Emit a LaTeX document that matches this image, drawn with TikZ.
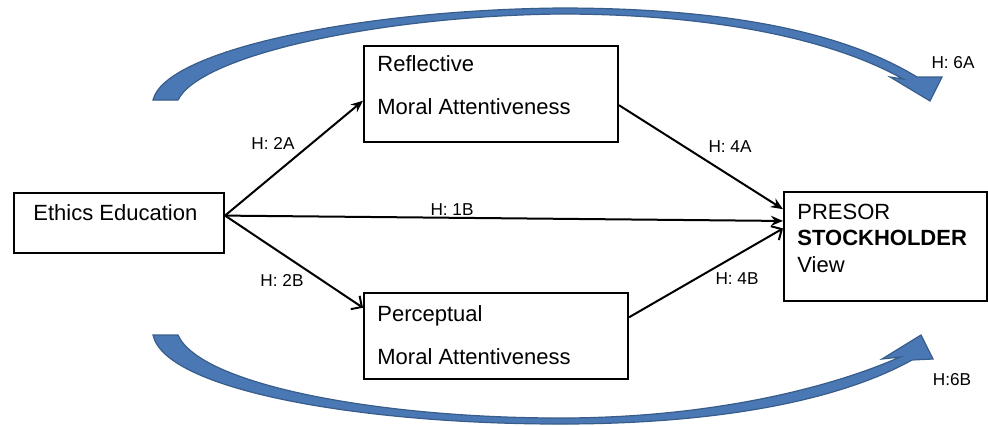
\documentclass[tikz,border=0pt]{standalone}
\usepackage{fontspec}
\setmainfont{Liberation Sans}
\usetikzlibrary{arrows.meta}

\begin{document}
\begin{tikzpicture}[x=0.5pt,y=-0.5pt,
	box/.style={draw=black,line width=1pt,rectangle,inner sep=0pt,anchor=north west},
	txt/.style={inner sep=0pt,anchor=base west,align=left,font=\fontsize{11}{21.5}\selectfont},
	hyp/.style={inner sep=0pt,font=\fontsize{8.6}{10}\selectfont},
	link/.style={line width=1pt,-{Stealth[length=6pt,width=5pt]}},
	openlink/.style={line width=1pt,-{Straight Barb[length=4pt,width=8pt]}},
	bigarrow/.style={fill=color1,draw=color2,line width=0.6pt,line join=miter}]
	\definecolor{color1}{RGB}{74,120,181}
	\definecolor{color2}{RGB}{56,93,138}
	\useasboundingbox (0,0) rectangle (988,425);
	%% Curved arrows ------
	\draw[bigarrow] (153,100) .. controls (165,50) and (360,10) .. (560,8)
		.. controls (720,8) and (840,30) .. (917,77)
		-- (942,77) -- (930,101) -- (890,77) -- (903,79)
		.. controls (830,38) and (710,14) .. (560,14)
		.. controls (380,16) and (200,55) .. (178,100) -- cycle;
	\draw[bigarrow] (153,335) .. controls (165,390) and (360,424) .. (560,424)
		.. controls (720,424) and (840,400) .. (912,360)
		-- (933,359) -- (921,335) -- (882,359) -- (900,357)
		.. controls (830,388) and (710,418) .. (560,418)
		.. controls (380,418) and (200,385) .. (178,335) -- cycle;
	%% Boxes ------
	\node[box,minimum width=105pt,minimum height=30pt] (ethics) at (13,192) {};
	\node[box,minimum width=127pt,minimum height=48pt] (reflective) at (363,45) {};
	\node[box,minimum width=132pt,minimum height=43pt] (perceptual) at (363,292) {};
	\node[box,minimum width=101.5pt,minimum height=54.5pt] (presor) at (783,191) {};
	% base of a multi-line node is its last line
	\node[txt] (ethics-txt) at (33,220) {Ethics Education};
	\node[txt] (reflective-txt) at (377,114) {Reflective\\Moral Attentiveness};
	\node[txt] (perceptual-txt) at (377,364) {Perceptual\\Moral Attentiveness};
	\node[txt,font=\fontsize{11}{13.25}\selectfont] (presor-txt) at (797,272) {PRESOR\\\textbf{STOCKHOLDER}\\View};
	%% Edges ---------
	\draw[link] (ethics.4) -- (reflective.183);
	\draw[openlink] (ethics.4) -- (perceptual.168);
	\draw[link] (ethics.4) -- (presor.166);
	\draw[link] (reflective.-5) -- (presor.160);
	\draw[openlink] (perceptual.8) -- (presor.170);
	%% Labels ---------
	\node[hyp] (h2a) at (273,143) {H: 2A};
	\node[hyp] (h2b) at (282,280) {H: 2B};
	\node[hyp] (h1b) at (452,210) {H: 1B};
	\node[hyp] (h4a) at (730,147) {H: 4A};
	\node[hyp] (h4b) at (737,279) {H: 4B};
	\node[hyp] (h6a) at (953,63) {H: 6A};
	\node[hyp] (h6b) at (952,380) {H:6B};
\end{tikzpicture}
\end{document}
